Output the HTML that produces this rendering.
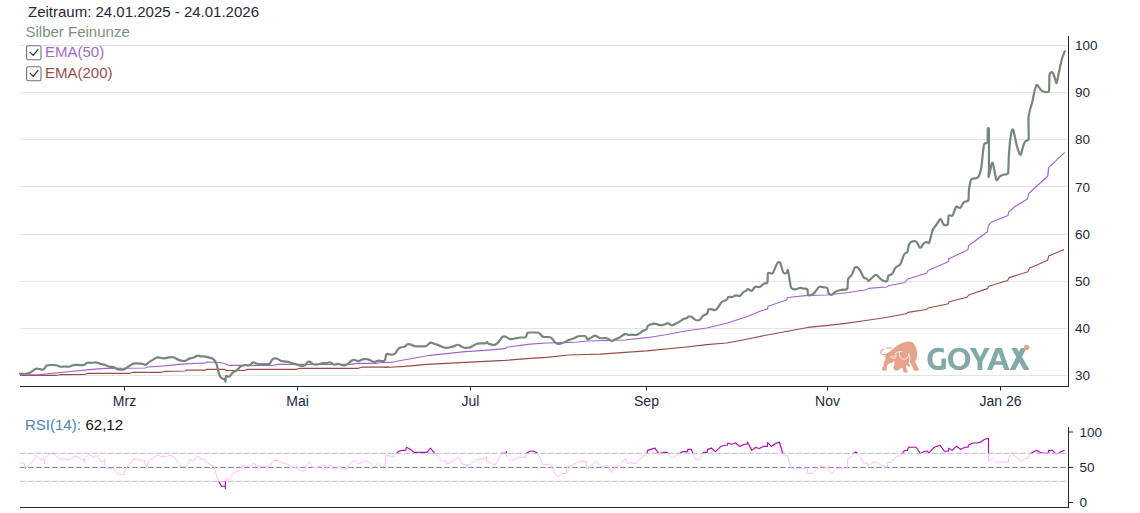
<!DOCTYPE html>
<html><head><meta charset="utf-8">
<style>
html,body{margin:0;padding:0;background:#fff;}
body{width:1140px;height:513px;overflow:hidden;font-family:"Liberation Sans",sans-serif;}
svg{display:block}
text{font-family:"Liberation Sans",sans-serif;}
</style></head><body>
<svg width="1140" height="513" viewBox="0 0 1140 513">
<defs>
<clipPath id="cHi"><rect x="0" y="420" width="1140" height="33.3"/></clipPath>
<clipPath id="cLo"><rect x="0" y="481.3" width="1140" height="40"/></clipPath>
</defs>
<rect width="1140" height="513" fill="#ffffff"/>
<!-- grid -->
<g stroke="#e4e4e4" stroke-width="1" shape-rendering="crispEdges">
<line x1="20" y1="45.5" x2="1067" y2="45.5"/>
<line x1="20" y1="92.5" x2="1067" y2="92.5"/>
<line x1="20" y1="139.5" x2="1067" y2="139.5"/>
<line x1="20" y1="186.5" x2="1067" y2="186.5"/>
<line x1="20" y1="234.5" x2="1067" y2="234.5"/>
<line x1="20" y1="281.5" x2="1067" y2="281.5"/>
<line x1="20" y1="328.5" x2="1067" y2="328.5"/>
<line x1="20" y1="375.5" x2="1067" y2="375.5"/>
</g>
<!-- ema -->
<path d="M20 375.33 L56.67 375.33 L60 374.67 L85 374.33 L88.33 373.33 L130 373.33 L133.33 372.33 L161.67 372.33 L165 371.33 L185 371 L186.67 370.17 L203.33 370.17 L205 370.33 L206.67 369.33 L225 369.33 L225.83 370.5 L245 370.5 L246.67 369.33 L296.67 369.33 L300 368.33 L358.33 368.33 L361.67 367.17 L388.33 367.17 L385 367.5 L405 366.33 L426.67 364.33 L446.67 363.33 L465 362.33 L485 361.33 L505 360.33 L530 358.33 L546.67 357.33 L568.33 355 L585 354.5 L600 354.17 L646.67 350.83 L686.67 347 L706.67 344.67 L726.67 343 L746.67 339.17 L767.37 334.95 L787.63 331.18 L807.89 327.42 L828.16 325.39 L845.53 323.37 L865.79 320.47 L886.05 317.58 L906.32 313.82 L907.76 312.37 L926.58 309.47 L928.03 308.03 L948.29 303.68 L949.16 301.66 L967.11 297.32 L968.55 295 L987.37 288.63 L988.82 286.32 L1007.63 280.53 L1009.08 277.63 L1027.89 271.84 L1029.34 268.37 L1047.58 260.26 L1048.74 255.92 L1064.08 249.55" fill="none" stroke="#9a4a44" stroke-width="1.1" stroke-linejoin="round"/>
<path d="M20 375 L40 374.67 L65 372 L90 369.67 L105 368.33 L145 368 L148.33 367 L165 365.83 L181.67 364.17 L203.33 363 L205 363.33 L206.67 362 L220 362.5 L225 363.67 L228.33 365.33 L273.33 365.33 L278.33 364.33 L350 364.33 L358.33 363.33 L376.67 363.33 L383.33 362.33 L385 362.5 L390 362.5 L405 359.67 L430 355.33 L446.67 353.67 L465 351.67 L485 350.33 L505 348.67 L507.5 347 L530 344.17 L546.67 343 L570 342.33 L570 342.5 L578.33 342 L586.67 341 L625 340 L646.67 337.67 L665.83 334.67 L686.67 330.83 L706.67 328 L726.67 323.33 L746.67 316.67 L760 311.33 L765 309.5 L767.5 309.17 L768 306.33 L786.67 300 L787.5 297.5 L808.33 295.33 L826.67 295 L848.33 292.5 L866.67 289.67 L868.33 288.33 L886.67 287 L888.33 285.83 L905 282.5 L907.76 279.08 L926.58 273.29 L928.03 270.39 L948.29 261.71 L949.16 258.82 L948.46 258.99 L967.95 249.64 L968.53 245.74 L987.44 231.71 L988.41 225.28 L991.33 222.36 L1007.9 215.54 L1008.87 211.64 L1014.72 206.77 L1027.38 198.97 L1028.75 193.52 L1047.85 175.98 L1048.82 167.79 L1047.69 175.51 L1048.57 167.62 L1064.7 152.36" fill="none" stroke="#a262d6" stroke-width="1.1" stroke-linejoin="round"/>
<path d="M20 373.67 L22.81 373.95 Q25 374.17 27.11 373.56 L28.72 373.11 Q30.83 372.5 32.52 371.09 L34.14 369.74 Q35.83 368.33 37.91 368.75 L37.91 368.75 Q40 369.17 42.09 369.59 L42.09 369.59 Q44.17 370 44.98 367.96 L45.02 367.87 Q45.83 365.83 47.08 365.41 L47.08 365.42 Q48.33 365 50.53 365.00 L53.63 365.00 Q55.83 365 57.87 365.82 L58.79 366.18 Q60.83 367 62.50 366.66 L62.50 366.66 Q64.17 366.33 66.25 366.66 L66.25 366.66 Q68.33 367 70.37 366.18 L72.13 365.49 Q74.17 364.67 76.37 364.81 L76.97 364.86 Q79.17 365 81.37 365.14 L81.97 365.19 Q84.17 365.33 85.42 363.91 L85.42 363.91 Q86.67 362.5 88.86 362.72 L89.48 362.78 Q91.67 363 93.75 362.50 L93.75 362.50 Q95.83 362 97.85 362.88 L98.81 363.29 Q100.83 364.17 102.91 364.42 L102.91 364.42 Q105 364.67 106.66 365.67 L106.66 365.67 Q108.33 366.67 110.53 366.79 L111.97 366.88 Q114.17 367 115.84 368.34 L115.84 368.34 Q117.5 369.67 119.70 369.67 L121.97 369.67 Q124.17 369.67 125.95 368.38 L126.55 367.96 Q128.33 366.67 130.16 365.45 L131.50 364.55 Q133.33 363.33 135.53 363.33 L136.13 363.33 Q138.33 363.33 140.51 363.64 L141.99 363.86 Q144.17 364.17 145.00 364.75 L145.00 364.75 Q145.83 365.33 147.08 363.91 L147.08 363.91 Q148.33 362.5 150.22 361.37 L150.61 361.13 Q152.5 360 154.39 358.87 L155.61 358.13 Q157.5 357 159.63 357.57 L160.37 357.76 Q162.5 358.33 164.17 358.33 L164.16 358.33 Q165.83 358.33 167.92 357.66 L167.92 357.66 Q170 357 172.08 357.16 L172.08 357.16 Q174.17 357.33 176.06 358.46 L177.28 359.20 Q179.17 360.33 181.34 360.70 L182.83 360.96 Q185 361.33 186.79 360.05 L187.38 359.61 Q189.17 358.33 191.25 358.16 L191.25 358.16 Q193.33 358 195.18 356.81 L195.65 356.52 Q197.5 355.33 199.17 355.83 L199.17 355.83 Q200.83 356.33 200.42 356.33 L200.42 356.33 Q200 356.33 202.20 356.33 L202.80 356.33 Q205 356.33 206.67 356.91 L206.67 356.91 Q208.33 357.5 210.42 357.91 L210.42 357.91 Q212.5 358.33 214.05 359.89 L214.28 360.11 Q215.83 361.67 216.44 363.78 L216.89 365.39 Q217.5 367.5 217.98 369.65 L218.69 372.85 Q219.17 375 220.41 376.82 L220.43 376.85 Q221.67 378.67 223.33 378.92 L223.33 378.92 Q225 379.17 225.25 380.84 L225.25 380.84 Q225.5 382.5 225.60 380.30 L225.73 377.20 Q225.83 375 227.50 376.25 L227.50 376.25 Q229.17 377.5 230.39 375.67 L231.28 374.33 Q232.5 372.5 234.47 371.52 L235.53 370.98 Q237.5 370 238.87 368.28 L239.46 367.55 Q240.83 365.83 243.00 365.47 L243.66 365.36 Q245.83 365 247.50 365.41 L247.50 365.41 Q249.17 365.83 250.73 364.27 L251.77 363.23 Q253.33 361.67 255.00 362.92 L255.00 362.92 Q256.67 364.17 258.87 364.17 L267.80 364.17 Q270 364.17 270.87 362.15 L271.63 360.35 Q272.5 358.33 274.70 358.33 L275.30 358.33 Q277.5 358.33 279.13 359.80 L279.20 359.86 Q280.83 361.33 283.03 361.33 L283.63 361.33 Q285.83 361.33 287.96 361.90 L291.20 362.76 Q293.33 363.33 295.39 364.10 L297.94 365.06 Q300 365.83 302.20 365.83 L303.13 365.83 Q305.33 365.83 306.00 364.16 L306.00 364.16 Q306.67 362.5 308.08 361.84 L308.09 361.84 Q309.5 361.17 311.12 362.65 L311.71 363.19 Q313.33 364.67 315.41 364.67 L315.41 364.67 Q317.5 364.67 319.59 364.00 L319.59 364.00 Q321.67 363.33 323.87 363.19 L324.47 363.14 Q326.67 363 328.75 362.50 L328.75 362.50 Q330.83 362 332.39 363.55 L332.61 363.78 Q334.17 365.33 336.15 364.38 L336.35 364.28 Q338.33 363.33 340.00 364.33 L340.00 364.33 Q341.67 365.33 343.87 365.33 L344.13 365.33 Q346.33 365.33 347.89 363.78 L348.44 363.22 Q350 361.67 351.89 360.54 L352.28 360.30 Q354.17 359.17 355.84 360.42 L355.84 360.42 Q357.5 361.67 359.47 360.69 L360.53 360.15 Q362.5 359.17 364.70 359.17 L366.13 359.17 Q368.33 359.17 370.24 360.26 L372.26 361.41 Q374.17 362.5 376.12 361.48 L376.38 361.35 Q378.33 360.33 380.41 360.83 L380.41 360.83 Q382.5 361.33 383.75 361.08 L383.75 361.08 Q385 360.83 385.38 358.66 L385.95 355.50 Q386.33 353.33 385.95 355.50 L385.38 358.66 Q385 360.83 385.38 358.66 L385.95 355.50 Q386.33 353.33 388.17 354.00 L388.16 354.00 Q390 354.67 392.20 354.67 L392.47 354.67 Q394.67 354.67 395.77 352.76 L397.23 350.24 Q398.33 348.33 400.00 347.66 L400.00 347.66 Q401.67 347 403.50 347.00 L403.50 347.00 Q405.33 347 406.00 345.59 L406.00 345.59 Q406.67 344.17 408.34 344.17 L408.34 344.17 Q410 344.17 412.00 345.09 L412.67 345.41 Q414.67 346.33 416.87 346.33 L424.47 346.33 Q426.67 346.33 428.09 344.65 L428.91 343.68 Q430.33 342 432.33 342.93 L433.00 343.24 Q435 344.17 436.66 344.59 L436.67 344.59 Q438.33 345 440.30 345.98 L441.36 346.52 Q443.33 347.5 445.16 347.75 L445.16 347.75 Q447 348 449.14 347.50 L452.03 346.83 Q454.17 346.33 456.12 345.32 L456.38 345.18 Q458.33 344.17 460.05 345.54 L460.78 346.13 Q462.5 347.5 464.41 347.75 L464.41 347.75 Q466.33 348 468.16 347.75 L468.16 347.75 Q470 347.5 471.92 346.43 L475.58 344.40 Q477.5 343.33 479.70 343.33 L484.47 343.33 Q486.67 343.33 486.83 342.50 L486.84 342.50 Q487 341.67 487.50 342.67 L487.50 342.67 Q488 343.67 490.14 344.18 L492.86 344.82 Q495 345.33 496.66 343.91 L496.66 343.91 Q498.33 342.5 499.56 340.68 L501.27 338.15 Q502.5 336.33 504.16 336.33 L504.16 336.33 Q505.83 336.33 507.50 337.75 L507.50 337.75 Q509.17 339.17 510.84 339.17 L510.84 339.17 Q512.5 339.17 514.61 338.56 L516.22 338.11 Q518.33 337.5 520.53 337.50 L524.13 337.50 Q526.33 337.5 526.62 335.32 L526.71 334.68 Q527 332.5 529.20 332.50 L536.97 332.50 Q539.17 332.5 540.48 334.27 L541.19 335.23 Q542.5 337 544.70 337.00 L548.63 337.00 Q550.83 337 552.19 338.73 L554.47 341.60 Q555.83 343.33 557.50 343.75 L557.50 343.75 Q559.17 344.17 561.26 343.47 L562.08 343.20 Q564.17 342.5 566.06 341.37 L566.44 341.13 Q568.33 340 569.16 339.84 L569.16 339.84 Q570 339.67 572.09 339.00 L572.09 339.00 Q574.17 338.33 576.09 337.25 L576.41 337.08 Q578.33 336 580.53 336.00 L584.13 336.00 Q586.33 336 586.66 338.00 L586.66 338.00 Q587 340 588.91 339.00 L588.91 339.00 Q590.83 338 592.62 336.72 L593.21 336.28 Q595 335 596.79 336.28 L597.88 337.05 Q599.67 338.33 601.87 338.24 L605.30 338.09 Q607.5 338 609.15 339.45 L610.02 340.22 Q611.67 341.67 613.45 340.38 L614.05 339.96 Q615.83 338.67 617.50 338.34 L617.50 338.34 Q619.17 338 620.89 336.63 L621.61 336.04 Q623.33 334.67 625.00 334.17 L625.00 334.17 Q626.67 333.67 627.50 334.50 L627.50 334.50 Q628.33 335.33 630.00 334.83 L630.00 334.83 Q631.67 334.33 633.75 334.83 L633.75 334.83 Q635.83 335.33 637.50 334.50 L637.50 334.50 Q639.17 333.67 640.89 332.29 L641.61 331.71 Q643.33 330.33 645.00 330.16 L645.00 330.16 Q646.67 330 647.05 327.83 L647.12 327.50 Q647.5 325.33 649.63 324.76 L652.87 323.90 Q655 323.33 657.02 324.21 L657.98 324.62 Q660 325.5 662.16 325.07 L663.67 324.76 Q665.83 324.33 666.67 323.41 L666.66 323.42 Q667.5 322.5 669.22 323.87 L669.95 324.46 Q671.67 325.83 673.61 324.78 L678.06 322.38 Q680 321.33 681.79 320.05 L682.38 319.61 Q684.17 318.33 685.84 318.33 L685.84 318.33 Q687.5 318.33 687.75 317.33 L687.75 317.33 Q688 316.33 689.66 316.33 L689.66 316.33 Q691.33 316.33 692.94 317.83 L694.22 319.00 Q695.83 320.5 697.75 320.50 L697.75 320.50 Q699.67 320.5 700.89 318.67 L702.11 316.83 Q703.33 315 705.41 314.59 L705.41 314.59 Q707.5 314.17 707.72 311.98 L707.78 311.36 Q708 309.17 709.84 309.17 L709.84 309.17 Q711.67 309.17 713.75 309.84 L713.75 309.84 Q715.83 310.5 717.08 308.69 L721.25 302.64 Q722.5 300.83 724.67 300.47 L725.33 300.36 Q727.5 300 727.75 298.16 L727.75 298.16 Q728 296.33 729.84 296.91 L729.84 296.91 Q731.67 297.5 733.56 296.37 L733.94 296.13 Q735.83 295 737.87 295.82 L737.96 295.85 Q740 296.67 741.22 294.84 L742.11 293.50 Q743.33 291.67 745.00 291.25 L745.00 291.25 Q746.67 290.83 747.09 289.58 L747.09 289.58 Q747.5 288.33 749.22 289.71 L749.95 290.29 Q751.67 291.67 752.83 289.80 L753.84 288.20 Q755 286.33 757.14 286.83 L757.86 287.00 Q760 287.5 761.45 285.85 L762.22 284.98 Q763.67 283.33 765.59 283.33 L765.59 283.33 Q767.5 283.33 767.57 281.13 L767.76 274.37 Q767.83 272.17 769.85 273.04 L770.48 273.30 Q772.5 274.17 773.37 272.15 L776.63 264.52 Q777.5 262.5 778.75 262.08 L778.75 262.09 Q780 261.67 780.60 263.79 L782.73 271.21 Q783.33 273.33 785.16 273.50 L785.16 273.50 Q787 273.67 787.24 271.48 L787.26 271.36 Q787.5 269.17 787.91 270.42 L787.91 270.42 Q788.33 271.67 788.67 273.84 L790.49 285.33 Q790.83 287.5 791.66 288.34 L791.66 288.34 Q792.5 289.17 794.16 289.42 L794.16 289.42 Q795.83 289.67 797.78 288.65 L798.05 288.52 Q800 287.5 801.66 288.09 L801.66 288.09 Q803.33 288.67 805.41 288.67 L805.41 288.67 Q807.5 288.67 807.65 290.86 L807.85 293.64 Q808 295.83 810.16 295.43 L810.34 295.40 Q812.5 295 813.91 293.31 L815.26 291.69 Q816.67 290 817.91 288.18 L817.93 288.15 Q819.17 286.33 821.31 286.83 L822.03 287.00 Q824.17 287.5 825.84 287.50 L825.84 287.50 Q827.5 287.5 827.79 289.68 L828.04 291.49 Q828.33 293.67 830.00 294.50 L830.00 294.50 Q831.67 295.33 833.26 293.81 L834.24 292.85 Q835.83 291.33 837.95 290.73 L839.55 290.27 Q841.67 289.67 843.87 289.67 L845.30 289.67 Q847.5 289.67 847.60 287.47 L847.90 280.53 Q848 278.33 849.70 276.94 L849.97 276.72 Q851.67 275.33 852.46 273.28 L854.21 268.72 Q855 266.67 856.66 267.09 L856.67 267.09 Q858.33 267.5 859.42 269.41 L860.58 271.42 Q861.67 273.33 862.54 275.35 L862.80 275.98 Q863.67 278 865.59 278.34 L865.59 278.34 Q867.5 278.67 867.75 280.17 L867.75 280.17 Q868 281.67 869.59 280.15 L874.24 275.69 Q875.83 274.17 877.39 275.72 L880.94 279.28 Q882.5 280.83 884.67 281.19 L885.33 281.31 Q887.5 281.67 887.67 279.48 L887.83 277.52 Q888 275.33 889.84 275.16 L889.84 275.16 Q891.67 275 892.65 273.03 L894.85 268.64 Q895.83 266.67 897.91 266.00 L897.91 266.00 Q900 265.33 900.80 263.28 L901.28 262.02 Q902.08 259.97 902.85 257.91 L903.85 255.21 Q904.62 253.15 906.08 252.86 L906.08 252.86 Q907.54 252.56 907.85 250.38 L908.20 247.92 Q908.51 245.74 909.49 243.80 L909.49 243.80 Q910.46 241.85 912.62 241.42 L913.17 241.30 Q915.33 240.87 916.31 241.84 L916.31 241.84 Q917.28 242.82 918.27 244.79 L919.22 246.70 Q920.21 248.67 921.43 246.84 L922.88 244.65 Q924.1 242.82 925.56 242.33 L925.57 242.33 Q927.03 241.85 928.00 242.82 L928.00 242.82 Q928.97 243.79 929.54 241.66 L932.30 231.31 Q932.87 229.18 934.25 227.46 L935.39 226.03 Q936.77 224.31 937.94 222.44 L939.50 219.94 Q940.67 218.07 941.50 220.11 L942.76 223.24 Q943.59 225.28 945.79 225.28 L945.87 225.28 Q948.07 225.28 948.15 223.08 L948.38 216.76 Q948.46 214.56 950.41 215.53 L950.41 215.53 Q952.36 216.51 953.11 214.44 L955.51 207.86 Q956.26 205.79 958.02 207.11 L958.39 207.40 Q960.15 208.72 961.17 206.77 L963.03 203.26 Q964.05 201.31 966.25 201.31 L966.33 201.31 Q968.53 201.31 968.60 199.11 L968.85 191.43 Q968.92 189.23 969.35 187.07 L970.44 181.65 Q970.87 179.49 971.85 179.00 L971.85 179.00 Q972.82 178.51 975.01 178.33 L975.50 178.30 Q977.69 178.12 978.66 176.38 L978.66 176.38 Q979.64 174.63 980.18 172.50 L980.86 169.75 Q981.4 167.62 981.62 165.43 L982.58 155.77 Q982.8 153.58 983.08 151.40 L983.75 146.12 Q984.03 143.94 984.73 143.50 L984.73 143.50 Q985.43 143.06 986.57 143.06 L986.57 143.06 Q987.71 143.06 987.71 140.86 L987.71 130.35 Q987.71 128.15 988.33 128.15 L988.33 128.15 Q988.94 128.15 988.94 130.35 L988.94 165.42 Q988.94 167.62 988.83 169.82 L988.52 175.94 Q988.41 178.14 988.95 176.01 L989.63 173.25 Q990.17 171.12 990.55 168.95 L991.19 165.40 Q991.57 163.23 992.18 162.79 L992.18 162.79 Q992.8 162.35 993.23 164.51 L993.77 167.21 Q994.2 169.37 994.59 171.53 L995.56 176.86 Q995.95 179.02 996.39 179.90 L996.39 179.90 Q996.83 180.77 997.96 178.88 L998.33 178.27 Q999.46 176.38 1001.22 175.50 L1001.22 175.50 Q1002.97 174.63 1005.17 174.48 L1006.03 174.43 Q1008.23 174.28 1008.30 172.08 L1008.69 159.29 Q1008.76 157.09 1008.93 154.90 L1009.81 143.50 Q1009.98 141.31 1010.32 139.14 L1011.40 132.08 Q1011.74 129.91 1012.44 129.47 L1012.44 129.47 Q1013.14 129.03 1013.62 131.18 L1014.24 133.90 Q1014.72 136.05 1015.19 138.20 L1016.53 144.42 Q1017 146.57 1017.70 148.66 L1018.93 152.37 Q1019.63 154.46 1020.25 154.73 L1020.25 154.73 Q1020.86 154.99 1021.41 152.86 L1022.24 149.58 Q1022.79 147.45 1023.47 145.36 L1024.21 143.05 Q1024.89 140.96 1026.82 140.69 L1026.82 140.69 Q1028.75 140.43 1028.72 138.23 L1028.43 119.37 Q1028.4 117.17 1028.88 115.02 L1029.67 111.43 Q1030.15 109.28 1030.78 107.17 L1031.63 104.37 Q1032.26 102.26 1032.69 100.10 L1034.11 93.02 Q1034.54 90.86 1035.17 88.75 L1036.01 85.96 Q1036.64 83.85 1037.78 85.60 L1037.78 85.60 Q1038.92 87.35 1040.24 89.10 L1040.24 89.10 Q1041.55 90.86 1043.30 91.56 L1043.30 91.56 Q1045.06 92.26 1047.08 92.26 L1047.08 92.26 Q1049.1 92.26 1049.14 90.06 L1049.41 75.52 Q1049.45 73.32 1050.94 72.44 L1050.94 72.44 Q1052.43 71.57 1053.20 73.63 L1053.94 75.65 Q1054.71 77.71 1055.28 79.83 L1055.89 82.08 Q1056.46 84.2 1056.91 82.05 L1058.64 73.72 Q1059.09 71.57 1059.55 69.42 L1061.26 61.44 Q1061.72 59.29 1062.50 57.23 L1064.7 51.4" fill="none" stroke="#76877a" stroke-width="2.2" stroke-linejoin="round" stroke-linecap="round"/>
<!-- axes main -->
<g stroke="#1e293b" stroke-width="1" fill="none">
<line x1="20" y1="386.5" x2="1069" y2="386.5"/>
<line x1="1068.5" y1="36" x2="1068.5" y2="387"/>
<line x1="124.5" y1="386.5" x2="124.5" y2="390.500"/>
<line x1="297.5" y1="386.5" x2="297.5" y2="390.500"/>
<line x1="470.5" y1="386.5" x2="470.5" y2="390.500"/>
<line x1="646.5" y1="386.5" x2="646.5" y2="390.500"/>
<line x1="827.5" y1="386.5" x2="827.5" y2="390.500"/>
<line x1="1000.5" y1="386.5" x2="1000.5" y2="390.500"/>
</g>
<g font-size="13.5" fill="#1e293b">
<text x="1075" y="50.1">100</text>
<text x="1075" y="97.1">90</text>
<text x="1075" y="144.2">80</text>
<text x="1075" y="191.7">70</text>
<text x="1075" y="239">60</text>
<text x="1075" y="286">50</text>
<text x="1075" y="333.2">40</text>
<text x="1075" y="380.2">30</text>
</g>
<g font-size="14" fill="#1e293b" text-anchor="middle">
<text x="124.5" y="405.6">Mrz</text>
<text x="297.5" y="405.6">Mai</text>
<text x="470.5" y="405.6">Jul</text>
<text x="646.5" y="405.6">Sep</text>
<text x="827.5" y="405.6">Nov</text>
<text x="1000.5" y="405.6">Jan 26</text>
</g>
<!-- header -->
<text x="28" y="16.8" font-size="15" fill="#1e293b">Zeitraum: 24.01.2025 - 24.01.2026</text>
<text x="25.5" y="37" font-size="15" fill="#7f8f82">Silber Feinunze</text>
<g fill="#fff" stroke="#6a727d" stroke-width="1.1">
<rect x="26.6" y="45.7" width="14.4" height="14" rx="1.8"/>
<rect x="26.6" y="66.7" width="14.4" height="14" rx="1.8"/>
</g>
<g fill="none" stroke="#2b3440" stroke-width="1.25" stroke-linecap="round" stroke-linejoin="round">
<path d="M30.2 52.4 L33.2 55.4 L37.9 49.6"/>
<path d="M30.2 73.4 L33.2 76.4 L37.9 70.6"/>
</g>
<text x="45" y="56.6" font-size="15" fill="#a06ad0">EMA(50)</text>
<text x="45" y="77.6" font-size="15" fill="#96504a">EMA(200)</text>
<!-- logo -->
<g id="logo">
<g transform="translate(876,338) scale(0.074074)">
<path fill="#e6a28b" stroke="#e6a28b" stroke-width="6" stroke-linejoin="round" d="M135 220 L200 175 L250 130 L300 95 L350 70 L400 55 L460 50 L500 65 L530 110 L550 170 L555 230 L545 280 L525 320 L545 360 L570 415 L575 437 L510 438 L500 400 L470 340 L455 330 L440 340 L460 380 L440 385 L420 360 L400 390 L415 430 L425 462 L375 462 L360 410 L340 400 L300 437 L260 437 L235 410 L245 370 L255 330 L240 300 L225 330 L175 340 L150 360 L140 400 L145 437 L85 437 L85 400 L105 380 L110 320 L130 290 L130 250 L120 225 Z"/>
<path fill="none" stroke="#e6a28b" stroke-width="15" stroke-linecap="round" d="M140 135 L212 135 M105 150 C70 165 50 190 70 210 C90 228 115 225 135 218"/>
<g fill="none" stroke="#ffffff" stroke-width="11" stroke-linecap="round">
<path d="M322 192 C300 230 330 285 380 288 C420 285 440 255 442 215"/>
<path d="M268 205 C295 185 320 180 352 180"/>
<path d="M200 250 C215 285 250 285 272 262"/>
<path d="M442 215 C462 250 462 290 445 345"/>
<path d="M265 215 C280 240 270 255 225 245"/>
</g>
</g>
<g fill="#82a9a9">
<path d="M943.9 348.400 C942 347.900 940.300 347.700 938.400 347.700 C931.800 347.700 927.400 352.500 927.400 358.900 C927.400 365.500 931.800 370.100 938.400 370.100 C941.300 370.100 943.900 369.500 945.900 368.700 L945.900 358.500 L941.400 358.500 L941.400 365.600 C940.700 365.900 939.700 366.100 938.600 366.100 C934.700 366.100 932.300 363.200 932.300 358.900 C932.300 354.600 934.800 351.700 938.700 351.700 C940.600 351.700 942.400 352.100 943.900 352.700 Z"/>
<path fill-rule="evenodd" d="M959.100 347.700 C965.600 347.700 970.300 352.400 970.300 358.900 C970.300 365.400 965.600 370.100 959.100 370.100 C952.600 370.100 948 365.400 948 358.900 C948 352.400 952.600 347.700 959.100 347.700 Z M959.100 351.600 C955.500 351.600 953 354.600 953 358.900 C953 363.200 955.500 366.200 959.100 366.200 C962.700 366.200 965.300 363.200 965.300 358.900 C965.300 354.600 962.700 351.600 959.100 351.600 Z"/>
<path d="M969.800 348.100 L975.500 348.100 L980 357.300 L984.600 348.100 L989.700 348.100 L982.300 361.500 L982.300 370 L977.500 370 L977.500 361.500 Z"/>
<path fill-rule="evenodd" d="M987 370 L995.600 348.100 L1001.800 348.100 L1009.400 370 L1004.300 370 L1002.500 364.700 L994.300 364.700 L992.100 370 Z M998.600 352.600 L995.500 361.200 L1001.500 361.200 Z"/>
<path d="M1011.200 348.100 L1016.800 348.100 L1029.600 370 L1023.900 370 Z"/>
<path d="M1020.900 348.100 L1026.500 348.100 L1015.300 370 L1009.700 370 Z"/>
</g>
<circle cx="1026.600" cy="347.400" r="2.600" fill="#e6a28b"/>
</g>
<!-- RSI -->
<text x="25" y="430" font-size="15" fill="#4a85b5">RSI(14):</text>
<text x="85.500" y="430" font-size="15" fill="#111">62,12</text>
<g fill="none" stroke-width="1" stroke-dasharray="5.800 2.200">
<line x1="20" y1="453.300" x2="1068" y2="453.300" stroke="#b3bfca"/>
<line x1="20" y1="481.300" x2="1068" y2="481.300" stroke="#b3bfca"/>
<line x1="20" y1="467.400" x2="1068" y2="467.400" stroke="#7a8692" stroke-width="1"/>
</g>
<path d="M20.14 463.07 L24.43 463.07 L24.77 469.24 L32.15 461.87 L36.78 455.52 L40.72 459.3 L44.15 459.3 L44.49 463.58 L45.01 458.44 L49.3 453.98 L53.58 453.81 L60.44 459.3 L64.39 459.3 L64.73 458.44 L68.16 460.5 L73.3 456.72 L76.73 456.21 L81.02 459.3 L84.11 459.3 L84.45 462.73 L84.96 458.44 L88.74 454.49 L93.02 457.24 L96.45 455.52 L100.74 461.35 L104.17 461.35 L104.51 459.3 L105.03 465.3 L108.97 469.24 L113.6 468.73 L117.89 473.87 L123.89 474.73 L126.46 467.01 L129.03 465.3 L133.32 459.64 L137.61 459.3 L143.61 461.35 L144.47 460.15 L146.18 467.01 L149.61 460.15 L153.9 457.58 L157.33 455.01 L160.76 456.38 L165.05 456.38 L170.19 455.52 L173.62 456.72 L181.34 466.5 L185.62 466.5 L189.91 460.15 L194.2 460.15 L197.63 455.52 L201.06 459.3 L200 457.58 L201.71 459.3 L205.14 459.64 L206 461.87 L210.29 464.78 L213.72 465.64 L216.29 474.73 L218.86 481.25 L221.44 486.22 L225.38 486.22 L225.38 488.79 L225.38 481.25 L225.72 478.5 L229.15 479.53 L233.44 473.01 L237.73 470.96 L242.01 466.16 L249.73 466.16 L253.5 463.24 L257.45 466.16 L269.45 466.16 L273.74 460.5 L278.02 460.5 L282.31 463.07 L285.74 463.58 L292.6 467.01 L296.89 467.87 L301.17 470.96 L304.95 470.96 L305.46 466.16 L309.4 461.87 L313.18 467.87 L317.46 467.53 L321.75 465.3 L325.69 465.3 L326.04 467.87 L330.32 464.44 L334.61 469.93 L338.9 466.16 L342.33 468.73 L345.76 469.24 L350.9 462.73 L354.33 460.5 L358.62 464.1 L362.05 461.87 L365.48 460.67 L369.77 462.73 L374.57 466.5 L378.34 463.58 L381.77 466.16 L385.2 466.16 L386.06 454.15 L385.86 454.15 L390.14 456.38 L394.43 456.38 L396.66 453.29 L398.72 451.24 L402.15 450.38 L405.58 450.38 L406.44 447.29 L409.86 449.01 L414.49 452.44 L427.01 452.44 L430.44 448.15 L434.73 453.29 L442.45 461.35 L446.39 461.35 L446.73 464.44 L451.02 461.87 L458.74 457.24 L463.02 464.44 L466.45 464.78 L466.8 467.87 L467.31 464.78 L470.74 464.44 L475.03 460.5 L481.03 458.78 L486.17 458.1 L486.52 455.87 L486.86 461.35 L494.75 465.3 L501.61 453.29 L506.41 452.95 L506.41 451.58 L506.41 456.72 L511.04 460.67 L518.75 457.24 L525.96 457.24 L526.3 453.29 L529.9 451.24 L534.19 451.24 L537.62 453.29 L540.19 458.44 L542.76 464.78 L550.48 464.1 L554.77 473.87 L558.19 476.44 L562.48 473.53 L566.43 473.53 L566.77 467.87 L571.06 465.3 L570 465.81 L574.29 464.1 L578.57 461.35 L586.29 461.35 L586.63 469.58 L591.44 466.16 L595.72 461.35 L600.01 466.5 L607.73 465.81 L611.5 472.67 L615.44 466.5 L619.73 465.3 L624.02 459.3 L626.59 459.3 L627.45 463.58 L630.88 462.38 L635.16 463.58 L643.74 455.52 L646.82 455.01 L647.17 453.29 L647.51 450.38 L654.88 448.15 L659.17 454.15 L663.46 452.44 L667.4 452.44 L667.74 453.29 L671.52 458.44 L678.03 454.15 L679.75 453.29 L683.18 451.58 L687.46 451.58 L687.81 449.35 L691.41 449.35 L692.61 453.29 L695.69 459.64 L699.47 459.64 L702.9 453.29 L703.41 452.44 L707.18 452.44 L707.53 449.35 L711.47 448.15 L715.42 451.58 L720.9 446.44 L724.33 445.23 L727.42 445.23 L727.76 443.01 L731.19 444.21 L735.48 443.01 L739.77 446.44 L744.05 444.21 L747.14 444.21 L747.65 442.15 L751.77 450.38 L756.06 447.29 L755 447.29 L759.29 448.49 L763.57 446.44 L767.35 446.44 L767.52 442.49 L771.29 446.44 L775.58 443.52 L779.35 442.15 L782.78 453.29 L783.29 455.01 L787.24 455.01 L791.35 468.73 L795.3 469.24 L801.3 468.21 L807.3 468.21 L807.64 473.53 L812.45 473.01 L816.73 469.58 L820.16 465.64 L823.59 467.01 L827.88 467.01 L828.74 470.44 L831.82 473.53 L835.6 469.24 L839.03 468.21 L847.26 468.21 L847.6 459.3 L851.89 455.87 L853.6 453.29 L855.66 451.92 L857.55 453.29 L859.6 455.87 L863.89 463.07 L867.32 463.07 L867.66 465.64 L875.04 461.35 L883.61 467.01 L887.38 467.01 L887.73 462.38 L891.33 462.38 L896.47 456.38 L900.76 455.87 L902.47 453.29 L904.19 450.72 L907.27 450.38 L908.47 447.29 L916.19 447.29 L920.48 453.81 L924.77 451.24 L927.34 451.24 L929.05 452.95 L933.34 448.15 L935 446.95 L940.14 445.23 L944.43 451.24 L948.38 451.24 L948.72 448.15 L952.15 450.38 L956.44 446.44 L960.72 449.35 L965.01 447.29 L968.1 447.29 L968.44 445.23 L972.73 443.01 L977.01 443.01 L980.44 442.15 L984.73 439.23 L988.5 438.38 L988.5 453.29 L988.5 461.35 L992.45 458.44 L996.73 463.07 L1001.02 461.87 L1008.39 461.87 L1008.74 457.58 L1012.17 453.29 L1015.6 456.72 L1020.74 461.35 L1025.03 458.44 L1028.46 458.44 L1028.8 455.01 L1031.03 453.29 L1036.17 450.38 L1040.46 452.44 L1044.75 453.29 L1048.18 453.29 L1048.52 450.38 L1052.46 450.38 L1055.04 453.29 L1056.75 455.01 L1058.81 453.29 L1061.04 451.58 L1064.47 450.38" fill="none" stroke="#ffbdfb" stroke-width="1" stroke-linejoin="round"/>
<path d="M20.14 463.07 L24.43 463.07 L24.77 469.24 L32.15 461.87 L36.78 455.52 L40.72 459.3 L44.15 459.3 L44.49 463.58 L45.01 458.44 L49.3 453.98 L53.58 453.81 L60.44 459.3 L64.39 459.3 L64.73 458.44 L68.16 460.5 L73.3 456.72 L76.73 456.21 L81.02 459.3 L84.11 459.3 L84.45 462.73 L84.96 458.44 L88.74 454.49 L93.02 457.24 L96.45 455.52 L100.74 461.35 L104.17 461.35 L104.51 459.3 L105.03 465.3 L108.97 469.24 L113.6 468.73 L117.89 473.87 L123.89 474.73 L126.46 467.01 L129.03 465.3 L133.32 459.64 L137.61 459.3 L143.61 461.35 L144.47 460.15 L146.18 467.01 L149.61 460.15 L153.9 457.58 L157.33 455.01 L160.76 456.38 L165.05 456.38 L170.19 455.52 L173.62 456.72 L181.34 466.5 L185.62 466.5 L189.91 460.15 L194.2 460.15 L197.63 455.52 L201.06 459.3 L200 457.58 L201.71 459.3 L205.14 459.64 L206 461.87 L210.29 464.78 L213.72 465.64 L216.29 474.73 L218.86 481.25 L221.44 486.22 L225.38 486.22 L225.38 488.79 L225.38 481.25 L225.72 478.5 L229.15 479.53 L233.44 473.01 L237.73 470.96 L242.01 466.16 L249.73 466.16 L253.5 463.24 L257.45 466.16 L269.45 466.16 L273.74 460.5 L278.02 460.5 L282.31 463.07 L285.74 463.58 L292.6 467.01 L296.89 467.87 L301.17 470.96 L304.95 470.96 L305.46 466.16 L309.4 461.87 L313.18 467.87 L317.46 467.53 L321.75 465.3 L325.69 465.3 L326.04 467.87 L330.32 464.44 L334.61 469.93 L338.9 466.16 L342.33 468.73 L345.76 469.24 L350.9 462.73 L354.33 460.5 L358.62 464.1 L362.05 461.87 L365.48 460.67 L369.77 462.73 L374.57 466.5 L378.34 463.58 L381.77 466.16 L385.2 466.16 L386.06 454.15 L385.86 454.15 L390.14 456.38 L394.43 456.38 L396.66 453.29 L398.72 451.24 L402.15 450.38 L405.58 450.38 L406.44 447.29 L409.86 449.01 L414.49 452.44 L427.01 452.44 L430.44 448.15 L434.73 453.29 L442.45 461.35 L446.39 461.35 L446.73 464.44 L451.02 461.87 L458.74 457.24 L463.02 464.44 L466.45 464.78 L466.8 467.87 L467.31 464.78 L470.74 464.44 L475.03 460.5 L481.03 458.78 L486.17 458.1 L486.52 455.87 L486.86 461.35 L494.75 465.3 L501.61 453.29 L506.41 452.95 L506.41 451.58 L506.41 456.72 L511.04 460.67 L518.75 457.24 L525.96 457.24 L526.3 453.29 L529.9 451.24 L534.19 451.24 L537.62 453.29 L540.19 458.44 L542.76 464.78 L550.48 464.1 L554.77 473.87 L558.19 476.44 L562.48 473.53 L566.43 473.53 L566.77 467.87 L571.06 465.3 L570 465.81 L574.29 464.1 L578.57 461.35 L586.29 461.35 L586.63 469.58 L591.44 466.16 L595.72 461.35 L600.01 466.5 L607.73 465.81 L611.5 472.67 L615.44 466.5 L619.73 465.3 L624.02 459.3 L626.59 459.3 L627.45 463.58 L630.88 462.38 L635.16 463.58 L643.74 455.52 L646.82 455.01 L647.17 453.29 L647.51 450.38 L654.88 448.15 L659.17 454.15 L663.46 452.44 L667.4 452.44 L667.74 453.29 L671.52 458.44 L678.03 454.15 L679.75 453.29 L683.18 451.58 L687.46 451.58 L687.81 449.35 L691.41 449.35 L692.61 453.29 L695.69 459.64 L699.47 459.64 L702.9 453.29 L703.41 452.44 L707.18 452.44 L707.53 449.35 L711.47 448.15 L715.42 451.58 L720.9 446.44 L724.33 445.23 L727.42 445.23 L727.76 443.01 L731.19 444.21 L735.48 443.01 L739.77 446.44 L744.05 444.21 L747.14 444.21 L747.65 442.15 L751.77 450.38 L756.06 447.29 L755 447.29 L759.29 448.49 L763.57 446.44 L767.35 446.44 L767.52 442.49 L771.29 446.44 L775.58 443.52 L779.35 442.15 L782.78 453.29 L783.29 455.01 L787.24 455.01 L791.35 468.73 L795.3 469.24 L801.3 468.21 L807.3 468.21 L807.64 473.53 L812.45 473.01 L816.73 469.58 L820.16 465.64 L823.59 467.01 L827.88 467.01 L828.74 470.44 L831.82 473.53 L835.6 469.24 L839.03 468.21 L847.26 468.21 L847.6 459.3 L851.89 455.87 L853.6 453.29 L855.66 451.92 L857.55 453.29 L859.6 455.87 L863.89 463.07 L867.32 463.07 L867.66 465.64 L875.04 461.35 L883.61 467.01 L887.38 467.01 L887.73 462.38 L891.33 462.38 L896.47 456.38 L900.76 455.87 L902.47 453.29 L904.19 450.72 L907.27 450.38 L908.47 447.29 L916.19 447.29 L920.48 453.81 L924.77 451.24 L927.34 451.24 L929.05 452.95 L933.34 448.15 L935 446.95 L940.14 445.23 L944.43 451.24 L948.38 451.24 L948.72 448.15 L952.15 450.38 L956.44 446.44 L960.72 449.35 L965.01 447.29 L968.1 447.29 L968.44 445.23 L972.73 443.01 L977.01 443.01 L980.44 442.15 L984.73 439.23 L988.5 438.38 L988.5 453.29 L988.5 461.35 L992.45 458.44 L996.73 463.07 L1001.02 461.87 L1008.39 461.87 L1008.74 457.58 L1012.17 453.29 L1015.6 456.72 L1020.74 461.35 L1025.03 458.44 L1028.46 458.44 L1028.8 455.01 L1031.03 453.29 L1036.17 450.38 L1040.46 452.44 L1044.75 453.29 L1048.18 453.29 L1048.52 450.38 L1052.46 450.38 L1055.04 453.29 L1056.75 455.01 L1058.81 453.29 L1061.04 451.58 L1064.47 450.38" fill="none" stroke="#b314b3" stroke-width="1.150" stroke-linejoin="round" clip-path="url(#cHi)"/>
<path d="M20.14 463.07 L24.43 463.07 L24.77 469.24 L32.15 461.87 L36.78 455.52 L40.72 459.3 L44.15 459.3 L44.49 463.58 L45.01 458.44 L49.3 453.98 L53.58 453.81 L60.44 459.3 L64.39 459.3 L64.73 458.44 L68.16 460.5 L73.3 456.72 L76.73 456.21 L81.02 459.3 L84.11 459.3 L84.45 462.73 L84.96 458.44 L88.74 454.49 L93.02 457.24 L96.45 455.52 L100.74 461.35 L104.17 461.35 L104.51 459.3 L105.03 465.3 L108.97 469.24 L113.6 468.73 L117.89 473.87 L123.89 474.73 L126.46 467.01 L129.03 465.3 L133.32 459.64 L137.61 459.3 L143.61 461.35 L144.47 460.15 L146.18 467.01 L149.61 460.15 L153.9 457.58 L157.33 455.01 L160.76 456.38 L165.05 456.38 L170.19 455.52 L173.62 456.72 L181.34 466.5 L185.62 466.5 L189.91 460.15 L194.2 460.15 L197.63 455.52 L201.06 459.3 L200 457.58 L201.71 459.3 L205.14 459.64 L206 461.87 L210.29 464.78 L213.72 465.64 L216.29 474.73 L218.86 481.25 L221.44 486.22 L225.38 486.22 L225.38 488.79 L225.38 481.25 L225.72 478.5 L229.15 479.53 L233.44 473.01 L237.73 470.96 L242.01 466.16 L249.73 466.16 L253.5 463.24 L257.45 466.16 L269.45 466.16 L273.74 460.5 L278.02 460.5 L282.31 463.07 L285.74 463.58 L292.6 467.01 L296.89 467.87 L301.17 470.96 L304.95 470.96 L305.46 466.16 L309.4 461.87 L313.18 467.87 L317.46 467.53 L321.75 465.3 L325.69 465.3 L326.04 467.87 L330.32 464.44 L334.61 469.93 L338.9 466.16 L342.33 468.73 L345.76 469.24 L350.9 462.73 L354.33 460.5 L358.62 464.1 L362.05 461.87 L365.48 460.67 L369.77 462.73 L374.57 466.5 L378.34 463.58 L381.77 466.16 L385.2 466.16 L386.06 454.15 L385.86 454.15 L390.14 456.38 L394.43 456.38 L396.66 453.29 L398.72 451.24 L402.15 450.38 L405.58 450.38 L406.44 447.29 L409.86 449.01 L414.49 452.44 L427.01 452.44 L430.44 448.15 L434.73 453.29 L442.45 461.35 L446.39 461.35 L446.73 464.44 L451.02 461.87 L458.74 457.24 L463.02 464.44 L466.45 464.78 L466.8 467.87 L467.31 464.78 L470.74 464.44 L475.03 460.5 L481.03 458.78 L486.17 458.1 L486.52 455.87 L486.86 461.35 L494.75 465.3 L501.61 453.29 L506.41 452.95 L506.41 451.58 L506.41 456.72 L511.04 460.67 L518.75 457.24 L525.96 457.24 L526.3 453.29 L529.9 451.24 L534.19 451.24 L537.62 453.29 L540.19 458.44 L542.76 464.78 L550.48 464.1 L554.77 473.87 L558.19 476.44 L562.48 473.53 L566.43 473.53 L566.77 467.87 L571.06 465.3 L570 465.81 L574.29 464.1 L578.57 461.35 L586.29 461.35 L586.63 469.58 L591.44 466.16 L595.72 461.35 L600.01 466.5 L607.73 465.81 L611.5 472.67 L615.44 466.5 L619.73 465.3 L624.02 459.3 L626.59 459.3 L627.45 463.58 L630.88 462.38 L635.16 463.58 L643.74 455.52 L646.82 455.01 L647.17 453.29 L647.51 450.38 L654.88 448.15 L659.17 454.15 L663.46 452.44 L667.4 452.44 L667.74 453.29 L671.52 458.44 L678.03 454.15 L679.75 453.29 L683.18 451.58 L687.46 451.58 L687.81 449.35 L691.41 449.35 L692.61 453.29 L695.69 459.64 L699.47 459.64 L702.9 453.29 L703.41 452.44 L707.18 452.44 L707.53 449.35 L711.47 448.15 L715.42 451.58 L720.9 446.44 L724.33 445.23 L727.42 445.23 L727.76 443.01 L731.19 444.21 L735.48 443.01 L739.77 446.44 L744.05 444.21 L747.14 444.21 L747.65 442.15 L751.77 450.38 L756.06 447.29 L755 447.29 L759.29 448.49 L763.57 446.44 L767.35 446.44 L767.52 442.49 L771.29 446.44 L775.58 443.52 L779.35 442.15 L782.78 453.29 L783.29 455.01 L787.24 455.01 L791.35 468.73 L795.3 469.24 L801.3 468.21 L807.3 468.21 L807.64 473.53 L812.45 473.01 L816.73 469.58 L820.16 465.64 L823.59 467.01 L827.88 467.01 L828.74 470.44 L831.82 473.53 L835.6 469.24 L839.03 468.21 L847.26 468.21 L847.6 459.3 L851.89 455.87 L853.6 453.29 L855.66 451.92 L857.55 453.29 L859.6 455.87 L863.89 463.07 L867.32 463.07 L867.66 465.64 L875.04 461.35 L883.61 467.01 L887.38 467.01 L887.73 462.38 L891.33 462.38 L896.47 456.38 L900.76 455.87 L902.47 453.29 L904.19 450.72 L907.27 450.38 L908.47 447.29 L916.19 447.29 L920.48 453.81 L924.77 451.24 L927.34 451.24 L929.05 452.95 L933.34 448.15 L935 446.95 L940.14 445.23 L944.43 451.24 L948.38 451.24 L948.72 448.15 L952.15 450.38 L956.44 446.44 L960.72 449.35 L965.01 447.29 L968.1 447.29 L968.44 445.23 L972.73 443.01 L977.01 443.01 L980.44 442.15 L984.73 439.23 L988.5 438.38 L988.5 453.29 L988.5 461.35 L992.45 458.44 L996.73 463.07 L1001.02 461.87 L1008.39 461.87 L1008.74 457.58 L1012.17 453.29 L1015.6 456.72 L1020.74 461.35 L1025.03 458.44 L1028.46 458.44 L1028.8 455.01 L1031.03 453.29 L1036.17 450.38 L1040.46 452.44 L1044.75 453.29 L1048.18 453.29 L1048.52 450.38 L1052.46 450.38 L1055.04 453.29 L1056.75 455.01 L1058.81 453.29 L1061.04 451.58 L1064.47 450.38" fill="none" stroke="#b314b3" stroke-width="1.150" stroke-linejoin="round" clip-path="url(#cLo)"/>
<g stroke="#1e293b" stroke-width="1" fill="none">
<line x1="20" y1="507.500" x2="1069.200" y2="507.500"/>
<line x1="1068.500" y1="427" x2="1068.500" y2="508.200"/>
<line x1="1068.500" y1="432" x2="1073" y2="432"/>
<line x1="1068.500" y1="467.400" x2="1073" y2="467.400"/>
<line x1="1068.500" y1="502.500" x2="1073" y2="502.500"/>
</g>
<g font-size="13.500" fill="#1e293b">
<text x="1079.500" y="436.800">100</text>
<text x="1079.500" y="472.200">50</text>
<text x="1079.500" y="507.300">0</text>
</g>
</svg>
</body></html>
